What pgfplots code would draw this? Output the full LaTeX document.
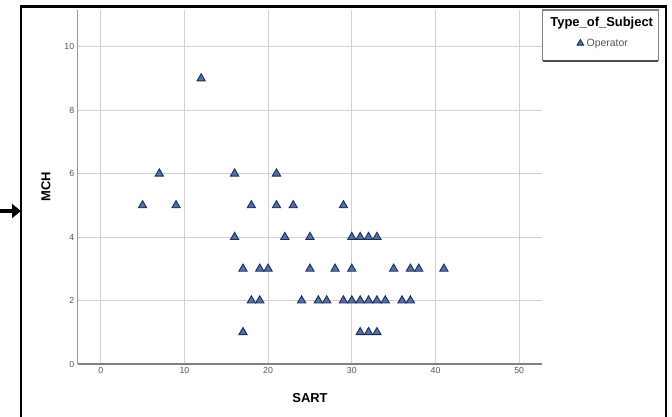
\documentclass[border=0pt]{standalone}
\usepackage{fontspec}
\setmainfont{Liberation Sans}
\usepackage{pgfplots}
\pgfplotsset{compat=1.18}
\usetikzlibrary{arrows.meta}
\definecolor{mk}{RGB}{74,114,178}
\definecolor{mkedge}{RGB}{35,45,70}
\definecolor{gridc}{RGB}{208,208,208}
\definecolor{tickc}{RGB}{85,85,85}
\pgfplotstableread{
x y
12 9
7 6
16 6
21 6
5 5
9 5
18 5
21 5
23 5
29 5
16 4
22 4
25 4
30 4
31 4
32 4
33 4
17 3
19 3
20 3
25 3
28 3
30 3
35 3
37 3
38 3
41 3
18 2
19 2
24 2
26 2
27 2
29 2
30 2
31 2
32 2
33 2
34 2
36 2
37 2
17 1
31 1
32 1
33 1
}\datatable
\begin{document}
\begin{tikzpicture}[x=1bp,y=1bp]
\useasboundingbox (0,0) rectangle (672,416);
\fill[white] (0,0) rectangle (672,416);
\draw[line width=2.2bp] (20.7,-3) -- (20.7,409.5) -- (666.3,409.5) -- (666.3,-3);
\draw[line width=3.2bp,-{Triangle[length=9bp,width=14bp]}] (0,205) -- (21,205);
\begin{axis}[
  at={(77.7bp,52bp)}, anchor=south west, scale only axis,
  width=464.6bp, height=354bp,
  xmin=-2.75, xmax=52.76, ymin=0, ymax=11.16,
  axis x line*=bottom, axis y line*=left,
  x axis line style={-, line width=2bp, color=gray},
  y axis line style={-, line width=1.2bp, color=gray!80},
  xtick={0,10,...,50}, ytick={0,2,...,10},
  major tick length=0pt,
  grid=major, major grid style={line width=1.2bp, color=gridc},
  tick label style={font=\fontsize{8.8}{10}\selectfont, color=tickc},
  /pgf/number format/assume math mode=true,
  xlabel={SART}, ylabel={MCH},
  every axis x label/.style={at={(axis description cs:0.5,-0.096)}, anchor=center,
    font=\fontsize{13}{15}\selectfont\bfseries},
  every axis y label/.style={at={(axis description cs:-0.0682,0.5)}, anchor=center, rotate=90,
    font=\fontsize{13}{15}\selectfont\bfseries},
  legend style={at={(axis description cs:1.1328,0.906)}, anchor=center, draw=none, fill=none,
    font=\fontsize{10.5}{12}\selectfont, text=tickc, inner sep=0pt,
    nodes={inner sep=3bp}},
  legend image post style={mark size=3.8},
  clip=false,
]
\addplot[only marks, mark=triangle*, mark size=4.8,
  mark options={fill=mk, draw=mkedge, line width=0.9bp}] table[x=x,y=y] {\datatable};
\addlegendentry{Operator}
\end{axis}
\draw[gray, line width=1.2bp] (542.7,406) rectangle (658.3,355.3);
\draw[gray!60!black, line width=1.6bp] (542.7,355.3) -- (658.3,355.3);
\node[font=\fontsize{13}{15}\selectfont\bfseries] at (601.7,393.3) {Type\_of\_Subject};
\end{tikzpicture}
\end{document}
